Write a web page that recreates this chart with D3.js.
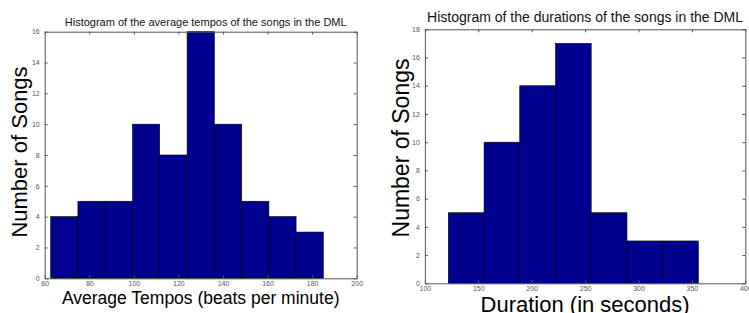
<!DOCTYPE html>
<html><head><meta charset="utf-8">
<script src="https://cdn.jsdelivr.net/npm/d3@7"></script>
<style>body{margin:0;background:#fff}svg{display:block}text{font-family:"Liberation Sans",Arial,sans-serif}</style>
</head><body>
<svg id="c" width="749" height="313"></svg>
<script>
// Left histogram: average tempos
const tempoEdges = [62.7, 74.9, 87.2, 99.4, 111.6, 123.9, 136.1, 148.4, 160.6, 172.8, 185.0];
const tempoCounts = [4, 5, 5, 10, 8, 16, 10, 5, 4, 3];
const tempoXTicks = [60, 80, 100, 120, 140, 160, 180, 200];
const tempoYTicks = [0, 2, 4, 6, 8, 10, 12, 14, 16];
// Right histogram: durations
const durEdges = [121.9, 155.4, 188.8, 222.3, 255.7, 289.2, 322.6, 356.0];
const durCounts = [5, 10, 14, 17, 5, 3, 3];
const durXTicks = [100, 150, 200, 250, 300, 350, 400];
const durYTicks = [0, 2, 4, 6, 8, 10, 12, 14, 16, 18];

const svg = d3.select("#c");

function hist(cfg) {
  const x = d3.scaleLinear().domain(cfg.xDomain).range([cfg.x0, cfg.x1]);
  const y = d3.scaleLinear().domain(cfg.yDomain).range([cfg.y1, cfg.y0]);
  const g = svg.append("g");
  const bins = cfg.counts.map((c, i) => ({a: cfg.edges[i], b: cfg.edges[i + 1], c}));
  g.selectAll("rect.bar").data(bins).join("rect")
    .attr("x", d => x(d.a)).attr("y", d => y(d.c))
    .attr("width", d => x(d.b) - x(d.a)).attr("height", d => y(0) - y(d.c))
    .attr("fill", "#00008f").attr("stroke", "#000").attr("stroke-width", 0.6);

  const axCol = "#555";
  const style = sel => {
    sel.select(".domain").attr("stroke", axCol).attr("stroke-width", 1);
    sel.selectAll(".tick line").attr("stroke", axCol);
    sel.selectAll(".tick text").attr("fill", "#555").attr("font-size", 7)
      .attr("font-family", "'Liberation Sans',Arial,sans-serif");
  };
  g.append("g").attr("transform", `translate(0,${cfg.y1})`)
    .call(d3.axisBottom(x).tickValues(cfg.xTicks).tickSizeInner(-3).tickSizeOuter(0).tickPadding(3))
    .call(style);
  g.append("g").attr("transform", `translate(0,${cfg.y0})`)
    .call(d3.axisTop(x).tickValues(cfg.xTicks).tickSizeInner(-3).tickSizeOuter(0).tickFormat(""))
    .call(style);
  g.append("g").attr("transform", `translate(${cfg.x0},0)`)
    .call(d3.axisLeft(y).tickValues(cfg.yTicks).tickSizeInner(-3).tickSizeOuter(0).tickPadding(5))
    .call(style);
  g.append("g").attr("transform", `translate(${cfg.x1},0)`)
    .call(d3.axisRight(y).tickValues(cfg.yTicks).tickSizeInner(-3).tickSizeOuter(0).tickFormat(""))
    .call(style);

  g.append("text").attr("x", (cfg.x0 + cfg.x1) / 2 + cfg.titleDx).attr("y", cfg.titleY)
    .attr("text-anchor", "middle").attr("font-size", cfg.titleSize).attr("fill", "#111").text(cfg.title);
  g.append("text").attr("x", (cfg.x0 + cfg.x1) / 2).attr("y", cfg.xlabY)
    .attr("text-anchor", "middle").attr("font-size", cfg.xlabSize).attr("fill", "#000").text(cfg.xlab);
  g.append("text").attr("transform", `translate(${cfg.ylabX},${cfg.ylabY}) rotate(-90)`)
    .attr("text-anchor", "middle").attr("font-size", cfg.ylabSize).attr("fill", "#000").text(cfg.ylab);
}

hist({
  edges: tempoEdges, counts: tempoCounts, xTicks: tempoXTicks, yTicks: tempoYTicks,
  xDomain: [60, 200], yDomain: [0, 16],
  x0: 44.7, x1: 356.7, y0: 31.7, y1: 278.3,
  title: "Histogram of the average tempos of the songs in the DML", titleY: 26, titleSize: 11, titleDx: 5,
  xlab: "Average Tempos (beats per minute)", xlabY: 304, xlabSize: 17.5,
  ylab: "Number of Songs", ylabX: 27, ylabY: 152, ylabSize: 22
});
hist({
  edges: durEdges, counts: durCounts, xTicks: durXTicks, yTicks: durYTicks,
  xDomain: [100, 400], yDomain: [0, 18],
  x0: 424.9, x1: 745.3, y0: 29.3, y1: 283.3,
  title: "Histogram of the durations of the songs in the DML", titleY: 22, titleSize: 14, titleDx: 0,
  xlab: "Duration (in seconds)", xlabY: 311.5, xlabSize: 22,
  ylab: "Number of Songs", ylabX: 408.5, ylabY: 148, ylabSize: 23
});
</script>
</body></html>
